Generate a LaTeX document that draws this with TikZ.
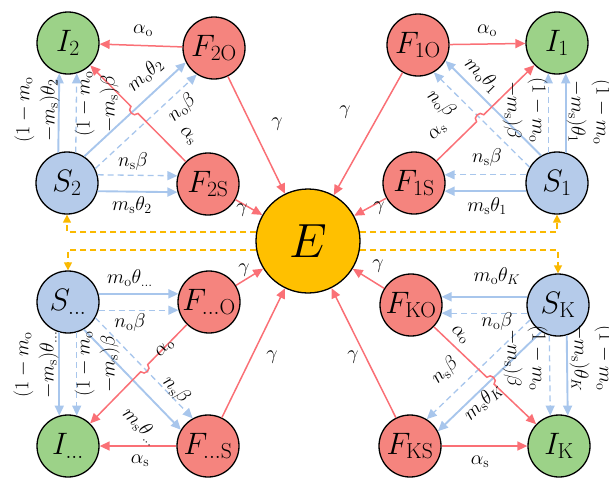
\RequirePackage{fix-cm}
\documentclass[tikz,border=0pt]{standalone}
\usetikzlibrary{arrows.meta,calc,intersections}
\definecolor{gfill}{RGB}{156,210,136}
\definecolor{rfill}{RGB}{245,132,126}
\definecolor{bfill}{RGB}{181,203,234}
\definecolor{efill}{RGB}{255,192,0}
\definecolor{rline}{RGB}{250,112,118}
\definecolor{bline}{RGB}{168,198,236}
\definecolor{oline}{RGB}{250,185,0}
\newcommand{\myo}{\mathrm{o}}
\newcommand{\mys}{\mathrm{s}}
\begin{document}
\begin{tikzpicture}[x=1pt,y=-1pt,
  nd/.style={circle,draw=black,line width=1.3pt,minimum size=62pt,inner sep=0pt,font=\fontsize{31}{31}\selectfont},
  inode/.style={nd,fill=gfill},
  fnode/.style={nd,fill=rfill},
  snode/.style={nd,fill=bfill},
  enode/.style={nd,fill=efill,minimum size=104pt,font=\fontsize{48}{48}\selectfont},
  lbl/.style={font=\fontsize{20}{25}\selectfont,inner sep=1pt},
  vlbl/.style={lbl,align=center},
  arrowtip/.style={-{Triangle[length=10pt,width=9pt]}},
  rarr/.style={draw=rline,line width=1.5pt,arrowtip},
  barr/.style={draw=bline,line width=1.9pt,arrowtip},
  bdash/.style={draw=bline,line width=1.3pt,dash pattern=on 6pt off 4pt,arrowtip},
  odash/.style={draw=oline,line width=1.4pt,dash pattern=on 6pt off 4pt,-{Triangle[length=8pt,width=8pt]}},
]
\useasboundingbox (0,0) rectangle (609,477);
% nodes
\node[inode] (I2) at (68,43) {$I_2$};
\node[fnode] (F2o) at (214,48) {$F_{\mathrm{2O}}$};
\node[fnode] (F1o) at (418,45) {$F_{\mathrm{1O}}$};
\node[inode] (I1) at (557,43) {$I_1$};
\node[snode] (S2) at (67,183) {$S_2$};
\node[fnode] (F2s) at (208,184) {$F_{\mathrm{2S}}$};
\node[fnode] (F1s) at (414,183) {$F_{\mathrm{1S}}$};
\node[snode] (S1) at (557,183) {$S_1$};
\node[enode] (E) at (308,241) {$E$};
\node[snode] (Sd) at (68,302) {$S_{\ldots}$};
\node[fnode] (Fdo) at (209,302) {$F_{\ldots\mathrm{O}}$};
\node[fnode] (FKo) at (411,305) {$F_{\mathrm{KO}}$};
\node[snode] (SK) at (558,305) {$S_{\mathrm{K}}$};
\node[inode] (Id) at (68,446) {$I_{\ldots}$};
\node[fnode] (Fds) at (208,446) {$F_{\ldots\mathrm{S}}$};
\node[fnode] (FKs) at (410,446) {$F_{\mathrm{KS}}$};
\node[inode] (IK) at (559,446) {$I_{\mathrm{K}}$};

% orange dashed feedback
\draw[odash] (E.170) -| (S2);
\draw[odash] (E.10) -| (S1);
\draw[odash] (E.190) -| (Sd);
\draw[odash] (E.350) -| (SK);

% red arrows to E
\foreach \f in {F2o,F2s,F1o,F1s,Fdo,Fds,FKo,FKs} \draw[rarr] (\f) -- (E);

% red straight arrows to I
\draw[rarr] (F2o) -- (I2);
\draw[rarr] (F1o) -- (I1);
\draw[rarr] (Fds) -- (Id);
\draw[rarr] (FKs) -- (IK);

% blue: top-left
\draw[barr] (S2.106) -- (I2.254);
\draw[bdash] (S2.74) -- (I2.286);
\draw[barr,name path=tlB] (S2.57.6) -- (F2o.207.6);
\draw[bdash] (S2.27.6) -- (F2o.237.6);
\draw[bdash] (S2.15) -- (F2s.165);
\draw[barr] (S2.-15) -- (F2s.195);
% blue: top-right
\draw[bdash] (S1.106) -- (I1.254);
\draw[barr] (S1.74) -- (I1.286);
\draw[barr] (S1.120.2) -- (F1o.330.2);
\draw[bdash,name path=trB] (S1.150.2) -- (F1o.300.2);
\draw[bdash] (S1.165) -- (F1s.15);
\draw[barr] (S1.195) -- (F1s.-15);
% blue: bottom-left
\draw[barr] (Sd.254) -- (Id.106);
\draw[bdash] (Sd.286) -- (Id.74);
\draw[barr] (Sd.15) -- (Fdo.165);
\draw[bdash] (Sd.-15) -- (Fdo.195);
\draw[bdash,name path=blB] (Sd.-30.8) -- (Fds.119.2);
\draw[barr] (Sd.-60.8) -- (Fds.149.2);
% blue: bottom-right
\draw[bdash] (SK.254) -- (IK.106);
\draw[barr] (SK.286) -- (IK.74);
\draw[barr] (SK.165) -- (FKo.15);
\draw[bdash] (SK.195) -- (FKo.-15);
\draw[barr,name path=brB] (SK.238.6) -- (FKs.28.6);
\draw[bdash] (SK.208.6) -- (FKs.58.6);

% red diagonal arrows with line hops
\path[name path=tlR] (F2s) -- (I2);
\path[name path=trR] (F1s) -- (I1);
\path[name path=blR] (Fdo) -- (Id);
\path[name path=brR] (FKo) -- (IK);
\path[name intersections={of=tlR and tlB,by=h1}];
\path[name intersections={of=trR and trB,by=h2}];
\path[name intersections={of=blR and blB,by=h3}];
\path[name intersections={of=brR and brB,by=h4}];
\draw[rarr] (F2s) -- ($(h1)!5pt!(F2s)$) coordinate (p1)
  .. controls ($(p1)!6pt!90:(h1)$) and ($($(h1)!5pt!(I2)$)!6pt!-90:(h1)$) .. ($(h1)!5pt!(I2)$) -- (I2);
\draw[rarr] (F1s) -- ($(h2)!5pt!(F1s)$) coordinate (p2)
  .. controls ($(p2)!6pt!90:(h2)$) and ($($(h2)!5pt!(I1)$)!6pt!-90:(h2)$) .. ($(h2)!5pt!(I1)$) -- (I1);
\draw[rarr] (Fdo) -- ($(h3)!5pt!(Fdo)$) coordinate (p3)
  .. controls ($(p3)!6pt!90:(h3)$) and ($($(h3)!5pt!(Id)$)!6pt!-90:(h3)$) .. ($(h3)!5pt!(Id)$) -- (Id);
\draw[rarr] (FKo) -- ($(h4)!5pt!(FKo)$) coordinate (p4)
  .. controls ($(p4)!6pt!90:(h4)$) and ($($(h4)!5pt!(IK)$)!6pt!-90:(h4)$) .. ($(h4)!5pt!(IK)$) -- (IK);

% labels top-left
\node[lbl] (a1) at (143,31) {$\alpha_\myo$};
\node[lbl,rotate=42.6] (a2) at (145,75) {$m_\myo\theta_2$};
\node[lbl,rotate=42.6] (a3) at (182,108) {$n_\myo\beta$};
\node[lbl,rotate=-45] (a4) at (188,136) {$\alpha_\mys$};
\node[lbl] (a5) at (133,161) {$n_\mys\beta$};
\node[lbl] (a6) at (132,205) {$m_\mys\theta_2$};
\node[vlbl,rotate=90] (a7) at (37,110) {$(1-m_\myo$\\$-m_\mys)\theta_2$};
\node[vlbl,rotate=90] (a8) at (97,104) {$(1-m_\myo$\\$-m_\mys)\beta$};
\node[lbl] (a9) at (277,124) {$\gamma$};
\node[lbl] (a10) at (242,210) {$\gamma$};
% labels top-right
\node[lbl] (b1) at (487,31) {$\alpha_\myo$};
\node[lbl,rotate=-44.8] (b2) at (482,75) {$m_\myo\theta_1$};
\node[lbl,rotate=-44.8] (b3) at (441,104) {$n_\myo\beta$};
\node[lbl,rotate=44.4] (b4) at (438,132) {$\alpha_\mys$};
\node[lbl] (b5) at (487,157) {$n_\mys\beta$};
\node[lbl] (b6) at (487,206) {$m_\mys\theta_1$};
\node[vlbl,rotate=-90] (b7) at (525,110) {$(1-m_\myo$\\$-m_\mys)\beta$};
\node[vlbl,rotate=-90] (b8) at (589,112) {$(1-m_\myo$\\$-m_\mys)\theta_1$};
\node[lbl] (b9) at (345,112) {$\gamma$};
\node[lbl] (b10) at (379,208) {$\gamma$};
% labels bottom-left
\node[lbl] (c1) at (130,278) {$m_\myo\theta_{\ldots}$};
\node[lbl] (c2) at (130,322) {$n_\myo\beta$};
\node[lbl,rotate=45.6] (c3) at (165,348) {$\alpha_\myo$};
\node[lbl,rotate=-45.8] (c4) at (176,390) {$n_\mys\beta$};
\node[lbl,rotate=-45.8] (c5) at (141,426) {$m_\mys\theta_{\ldots}$};
\node[lbl] (c6) at (140,461) {$\alpha_\mys$};
\node[vlbl,rotate=90] (c7) at (36,365) {$(1-m_\myo$\\$-m_\mys)\theta_{\ldots}$};
\node[vlbl,rotate=90] (c8) at (97,364) {$(1-m_\myo$\\$-m_\mys)\beta$};
\node[lbl] (c9) at (244,270) {$\gamma$};
\node[lbl] (c10) at (272,357) {$\gamma$};
% labels bottom-right
\node[lbl] (d1) at (497,276) {$m_\myo\theta_K$};
\node[lbl] (d2) at (497,321) {$n_\myo\beta$};
\node[lbl,rotate=-43.6] (d3) at (460,335) {$\alpha_\myo$};
\node[lbl,rotate=43.6] (d4) at (445,371) {$n_\mys\beta$};
\node[lbl,rotate=43.6] (d5) at (483,402) {$m_\mys\theta_K$};
\node[lbl] (d6) at (480,462) {$\alpha_\mys$};
\node[vlbl,rotate=-90] (d7) at (525,358) {$(1-m_\myo$\\$-m_\mys)\beta$};
\node[vlbl,rotate=-90] (d8) at (592,358) {$(1-m_\myo$\\$-m_\mys)\theta_K$};
\node[lbl] (d9) at (378,266) {$\gamma$};
\node[lbl] (d10) at (353,357) {$\gamma$};
\end{tikzpicture}
\end{document}
